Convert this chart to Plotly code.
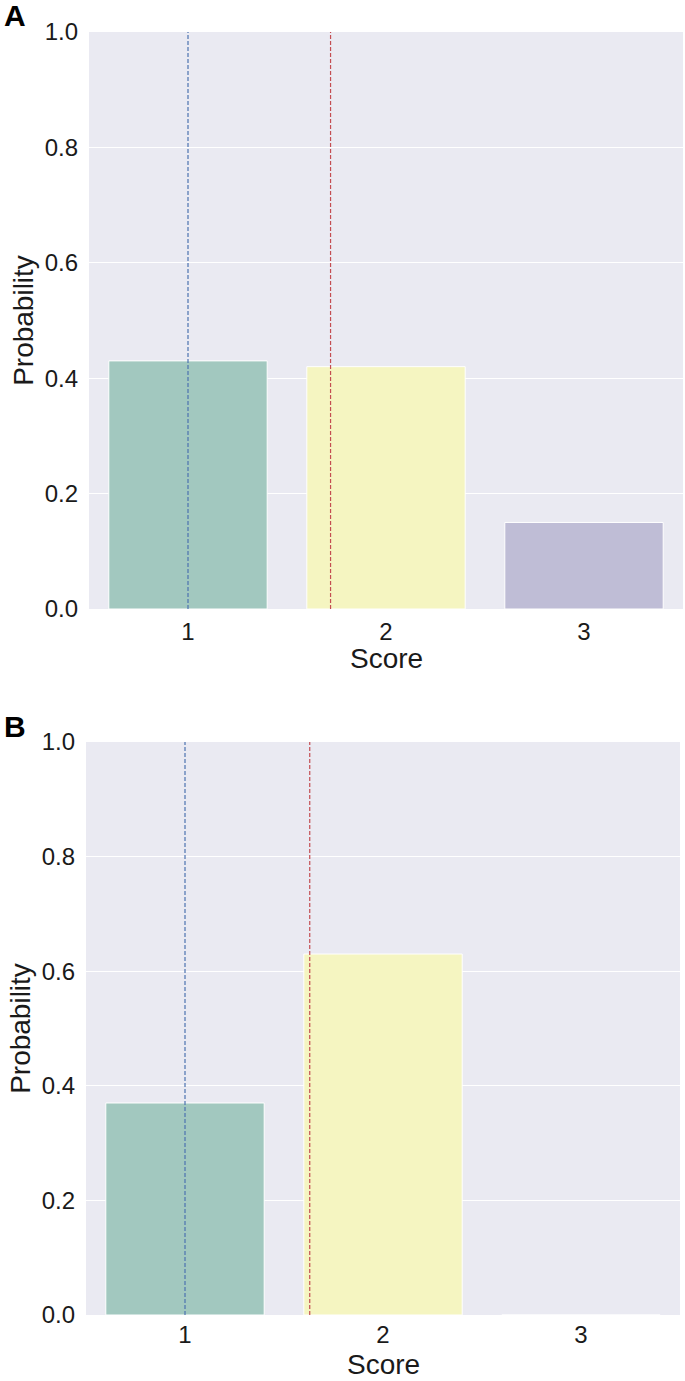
import plotly.graph_objects as go
from plotly.subplots import make_subplots

scores = [1, 2, 3]
score_labels = ["1", "2", "3"]
prob_a = [0.43, 0.42, 0.15]
prob_b = [0.37, 0.63, 0.0]
# blue dashed reference sits on score 1 in both panels
ref_score_a = 1
ref_score_b = 1
panel_labels = ["A", "B"]

BAR_COLORS = ["#A2C8BF", "#F5F5C1", "#BFBDD6"]
BG = "#EAEAF2"
FONT = "Liberation Sans, Arial, sans-serif"
TEXT = "#1a1a1a"

W, H = 685, 1381


def mean_score(probs):
    return sum(s * p for s, p in zip(scores, probs))


fig = make_subplots(rows=2, cols=1)

panels = [(prob_a, ref_score_a), (prob_b, ref_score_b)]
for i, (probs, ref) in enumerate(panels, start=1):
    fig.add_trace(
        go.Bar(
            x=scores,
            y=probs,
            width=0.8,
            marker=dict(color=BAR_COLORS, line=dict(color="white", width=1)),
            showlegend=False,
        ),
        row=i,
        col=1,
    )
    xref = "x" if i == 1 else "x2"
    yref = "y domain" if i == 1 else "y2 domain"
    for xv, color in [(ref, "#4C72B0"), (mean_score(probs), "#C44E52")]:
        fig.add_shape(
            type="line",
            x0=xv, x1=xv, y0=0, y1=1,
            xref=xref, yref=yref,
            line=dict(color=color, width=1.2, dash="4px,2px"),
            layer="above",
        )

# plot areas measured off the reference (pixels); bottom panel nudged up a
# little so its tick labels and title fit above the page edge
areas = [(89, 683, 32, 609), (86, 680, 742, 1315)]
for i, (x0, x1, y0, y1) in enumerate(areas, start=1):
    sx = "" if i == 1 else str(i)
    fig.layout["xaxis" + sx].domain = [x0 / W, x1 / W]
    fig.layout["yaxis" + sx].domain = [1 - y1 / H, 1 - y0 / H]

fig.update_xaxes(
    range=[0.5, 3.5],
    tickvals=scores,
    ticktext=score_labels,
    showgrid=False,
    zeroline=False,
    showline=False,
    ticks="",
    automargin=False,
    ticklabelstandoff=6,
    tickfont=dict(size=24, color=TEXT),
)
fig.update_xaxes(ticklabelstandoff=3, row=2, col=1)
fig.update_yaxes(
    range=[0, 1],
    tickvals=[0, 0.2, 0.4, 0.6, 0.8, 1.0],
    tickformat=".1f",
    showgrid=True,
    gridcolor="white",
    gridwidth=1,
    zeroline=False,
    showline=False,
    ticks="",
    automargin=False,
    ticklabelstandoff=10,
    tickfont=dict(size=24, color=TEXT),
    title=dict(text="Probability", font=dict(size=28, color=TEXT), standoff=2),
)

for label, (x0, x1, y0, y1) in zip(panel_labels, areas):
    fig.add_annotation(
        text="<b>%s</b>" % label,
        x=2 / W, y=1 - (y0 - 16) / H,
        xref="paper", yref="paper",
        xanchor="left", yanchor="middle",
        showarrow=False,
        font=dict(size=30, color="black", family=FONT),
    )
    # x-axis title placed by hand under the tick labels
    y_mid = min(y1 + 49, H - 16)
    fig.add_annotation(
        text="Score",
        x=(x0 + x1) / 2 / W, y=1 - y_mid / H,
        xref="paper", yref="paper",
        xanchor="center", yanchor="middle",
        showarrow=False,
        borderpad=0,
        font=dict(size=28, color=TEXT, family=FONT),
    )

fig.update_layout(
    width=W,
    height=H,
    margin=dict(l=0, r=0, t=0, b=0, autoexpand=False),
    paper_bgcolor="white",
    plot_bgcolor=BG,
    font=dict(family=FONT, color=TEXT),
    bargap=0.2,
)

fig.write_html(
    "out.html",
    config={"displayModeBar": False},
    post_script="document.body.style.margin = '0px';",
)
